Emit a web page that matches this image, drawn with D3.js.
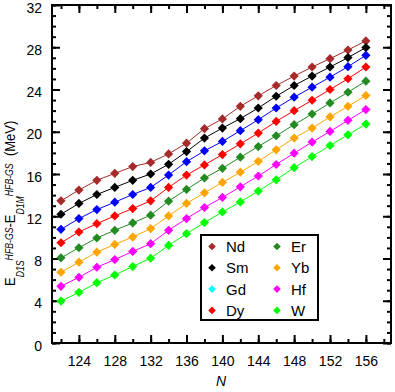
<!DOCTYPE html>
<html>
<head>
<meta charset="utf-8">
<script src="https://cdn.jsdelivr.net/npm/d3@7"></script>
<style>
  body { margin: 0; background: #fff; }
  text { font-family: "Liberation Sans", Arial, sans-serif; }
</style>
</head>
<body>
<div id="graph"></div>
<script>
const WIDTH = 395, HEIGHT = 392;

// neutron numbers
const N_values = [122, 124, 126, 128, 130, 132, 134, 136, 138, 140, 142, 144, 146, 148, 150, 152, 154, 156];

// energy differences (MeV)
const Nd = [13.46, 14.48, 15.40, 16.06, 16.70, 17.10, 17.90, 18.92, 20.29, 21.21, 22.41, 23.40, 24.38, 25.27, 26.13, 26.92, 27.74, 28.60];
const Sm = [12.19, 13.21, 14.06, 14.73, 15.40, 16.00, 16.92, 18.12, 19.40, 20.35, 21.24, 22.25, 23.36, 24.38, 25.27, 26.13, 27.02, 27.97];
const Gd = [10.76, 11.78, 12.63, 13.33, 14.06, 14.73, 15.90, 17.17, 18.19, 19.08, 20.10, 21.14, 22.25, 23.27, 24.22, 25.17, 26.16, 27.24];
const Dy = [9.49, 10.51, 11.30, 12.03, 12.73, 13.46, 14.73, 15.90, 16.86, 17.84, 18.86, 19.87, 20.98, 22.00, 22.98, 24.00, 25.02, 26.13];
const Er = [8.06, 9.02, 9.94, 10.67, 11.37, 12.10, 13.43, 14.54, 15.62, 16.54, 17.59, 18.60, 19.62, 20.67, 21.68, 22.73, 23.74, 24.79];
const Yb = [6.70, 7.65, 8.60, 9.33, 10.03, 10.83, 12.03, 13.21, 14.22, 15.20, 16.17, 17.20, 18.29, 19.40, 20.35, 21.40, 22.41, 23.43];
const Hf = [5.37, 6.22, 7.17, 7.90, 8.67, 9.40, 10.67, 11.78, 12.83, 13.78, 14.79, 15.81, 16.90, 17.97, 19.02, 20.03, 21.08, 22.10];
const W  = [3.97, 4.79, 5.71, 6.44, 7.24, 8.03, 9.24, 10.35, 11.40, 12.41, 13.36, 14.38, 15.45, 16.60, 17.65, 18.70, 19.71, 20.73];

const series_names = ["Nd", "Sm", "Gd", "Dy", "Er", "Yb", "Hf", "W"];
const series_values = [Nd, Sm, Gd, Dy, Er, Yb, Hf, W];
const line_colors = ["#a52a2a", "#000000", "#0000ff", "#ff0000", "#228b22", "#ffa500", "#ff00ff", "#00ff00"];
// the legend shows Gd in cyan although the curve is blue
const legend_colors = ["#a52a2a", "#000000", "#00ffff", "#ff0000", "#228b22", "#ffa500", "#ff00ff", "#00ff00"];

const x_ticks = [124, 128, 132, 136, 140, 144, 148, 152, 156];
const y_ticks = [0, 4, 8, 12, 16, 20, 24, 28, 32];

let svg = d3.select("#graph")
    .append("svg")
    .attr("width", WIDTH)
    .attr("height", HEIGHT);

let x = d3.scaleLinear().domain([121, 158.8]).range([52, 391]);
let y = d3.scaleLinear().domain([0, 32]).range([343, 5]);

let x_minor = d3.range(122, 159, 2);
let y_minor = d3.range(0, 33, 1);

// inward ticks on all four sides
function tickAxis(axis, transform) {
    let g = svg.append("g").attr("transform", transform).call(axis);
    g.select(".domain").remove();
    g.selectAll("line").attr("stroke", "#000").attr("stroke-width", 2);
    return g;
}

tickAxis(d3.axisBottom(x).tickValues(x_minor).tickSize(-4).tickFormat(""), `translate(0, ${y(0)})`);
tickAxis(d3.axisTop(x).tickValues(x_minor).tickSize(-4).tickFormat(""), `translate(0, ${y(32)})`);
tickAxis(d3.axisLeft(y).tickValues(y_minor).tickSize(-4).tickFormat(""), `translate(${x(121)}, 0)`);
tickAxis(d3.axisRight(y).tickValues(y_minor).tickSize(-4).tickFormat(""), `translate(${x(158.8)}, 0)`);

let x_axis = tickAxis(d3.axisBottom(x).tickValues(x_ticks).tickSize(-8).tickPadding(13), `translate(0, ${y(0)})`);
tickAxis(d3.axisTop(x).tickValues(x_ticks).tickSize(-8).tickFormat(""), `translate(0, ${y(32)})`);
let y_axis = tickAxis(d3.axisLeft(y).tickValues(y_ticks).tickSize(-8).tickPadding(10), `translate(${x(121)}, 0)`);
tickAxis(d3.axisRight(y).tickValues(y_ticks).tickSize(-8).tickFormat(""), `translate(${x(158.8)}, 0)`);

x_axis.selectAll("text").style("font-size", "14px").attr("fill", "#000");
y_axis.selectAll("text").style("font-size", "14px").attr("fill", "#000").attr("dy", "0.5em");

// frame
svg.append("rect")
    .attr("x", x(121))
    .attr("y", y(32))
    .attr("width", x(158.8) - x(121))
    .attr("height", y(0) - y(32))
    .attr("fill", "none")
    .attr("stroke", "#000")
    .attr("stroke-width", 2);

// diamond marker
function diamond(r) {
    return `M0,${-r}L${r},0L0,${r}L${-r},0Z`;
}

let line = d3.line()
    .x(function(d, i) { return x(N_values[i]); })
    .y(function(d) { return y(d); });

series_values.forEach(function(vals, k) {
    svg.append("path")
        .datum(vals)
        .attr("d", line)
        .attr("fill", "none")
        .attr("stroke", line_colors[k])
        .attr("stroke-width", 1);

    svg.selectAll(".pt" + k)
        .data(vals)
        .enter()
        .append("path")
        .attr("class", "pt" + k)
        .attr("d", diamond(4.6))
        .attr("transform", function(d, i) { return `translate(${x(N_values[i])}, ${y(d)})`; })
        .attr("fill", line_colors[k]);
});

// legend
let legend = svg.append("g").attr("transform", "translate(201, 235)");
legend.append("rect")
    .attr("width", 117)
    .attr("height", 85)
    .attr("fill", "#fff")
    .attr("stroke", "#000")
    .attr("stroke-width", 2);

series_names.forEach(function(name, k) {
    let col = Math.floor(k / 4), row = k % 4;
    let g = legend.append("g")
        .attr("transform", `translate(${11 + col * 65}, ${11.5 + row * 21.3})`);
    g.append("path")
        .attr("d", diamond(3.8))
        .attr("fill", legend_colors[k]);
    g.append("text")
        .attr("x", 14)
        .attr("dy", "0.36em")
        .style("font-size", "15px")
        .text(name);
});

// axis titles
svg.append("text")
    .attr("x", (x(121) + x(158.8)) / 2 - 0.5)
    .attr("y", 386)
    .style("text-anchor", "middle")
    .style("font-size", "14px")
    .style("font-style", "italic")
    .text("N");

// the original font is narrower, so squeeze the title along its length
let y_title = svg.append("text")
    .attr("transform", "translate(15, 286) rotate(-90) scale(0.87, 1)")
    .style("font-size", "15px");

let parts = [
    {t: "E", size: 15, italic: false, dy: 0},
    {t: "D1S", size: 10, italic: true, dy: 9},
    {t: "HFB-GS", size: 10, italic: true, dy: -11},
    {t: "-E", size: 15, italic: false, dy: 2},
    {t: "D1M", size: 10, italic: true, dy: 9},
    {t: "HFB-GS", size: 10, italic: true, dy: -11},
    {t: "\u00a0\u00a0(MeV)", size: 15, italic: false, dy: 2}
];
parts.forEach(function(p) {
    y_title.append("tspan")
        .attr("dy", p.dy)
        .style("font-size", p.size + "px")
        .style("font-style", p.italic ? "italic" : "normal")
        .text(p.t);
});
</script>
</body>
</html>
